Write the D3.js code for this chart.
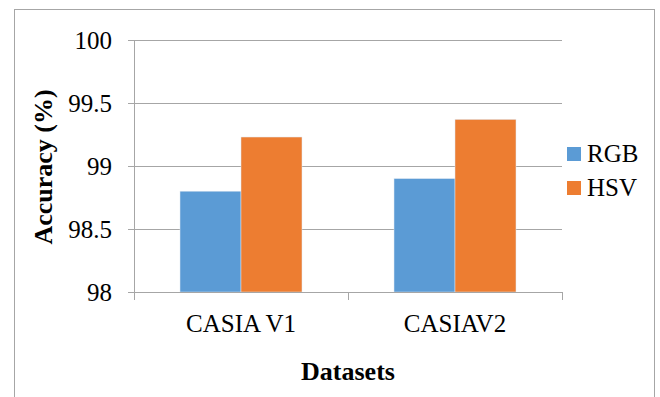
<!DOCTYPE html>
<html>
<head>
<meta charset="utf-8">
<script src="https://cdn.jsdelivr.net/npm/d3@7"></script>
<style>
  body { margin: 0; background: #fff; }
</style>
</head>
<body>
<script>
// chart data
var categories = ['CASIA V1', 'CASIAV2'];
var seriesNames = ['RGB', 'HSV'];
var rgbValues = [98.8, 98.9];
var hsvValues = [99.23, 99.37];
var yTicks = [98, 98.5, 99, 99.5, 100];
var colors = ['#5b9bd5', '#ed7d31'];

var serif = "'Times New Roman', Times, 'Liberation Serif', 'DejaVu Serif', serif";

var width = 660, height = 397;
var margin = { top: 40, right: 98, bottom: 105, left: 134 };
var plotW = width - margin.left - margin.right;
var plotH = height - margin.top - margin.bottom;

var data = categories.map(function (c, i) {
  return { cat: c, values: [rgbValues[i], hsvValues[i]] };
});

var svg = d3.select('body')
  .append('svg')
    .attr('width', width)
    .attr('height', height)
    .attr('font-family', serif);

// outer frame
svg.append('rect')
    .attr('x', 14.5).attr('y', 9.5)
    .attr('width', 640).attr('height', 400)
    .attr('fill', 'none')
    .attr('stroke', '#a6a6a6');

var g = svg.append('g')
    .attr('transform', 'translate(' + margin.left + ',' + margin.top + ')');

var x0 = d3.scaleBand()
    .domain(categories)
    .range([0, plotW])
    .paddingInner(0.43)
    .paddingOuter(0.215);

var x1 = d3.scaleBand()
    .domain(seriesNames)
    .range([0, x0.bandwidth()]);

var y = d3.scaleLinear()
    .domain([98, 100])
    .range([plotH, 0]);

// gridlines
g.selectAll('.grid')
  .data(yTicks)
  .enter().append('line')
    .attr('x1', 0).attr('x2', plotW)
    .attr('y1', function (d) { return Math.round(y(d)) + 0.5; })
    .attr('y2', function (d) { return Math.round(y(d)) + 0.5; })
    .attr('stroke', '#a6a6a6')
    .attr('stroke-width', 1);

// bars
var groups = g.selectAll('.group')
  .data(data)
  .enter().append('g')
    .attr('transform', function (d) { return 'translate(' + x0(d.cat) + ',0)'; });

groups.selectAll('rect')
  .data(function (d) { return d.values.map(function (v, i) { return { s: seriesNames[i], v: v, i: i }; }); })
  .enter().append('rect')
    .attr('x', function (d) { return x1(d.s); })
    .attr('y', function (d) { return y(d.v); })
    .attr('width', x1.bandwidth())
    .attr('height', function (d) { return plotH - y(d.v); })
    .attr('fill', function (d) { return colors[d.i]; })
    .attr('stroke', '#dfe8f2')
    .attr('stroke-width', 0.5);

// y axis
var yAxis = d3.axisLeft(y).tickValues(yTicks).tickSize(6).tickPadding(16)
    .tickFormat(d3.format('~g'));
var yg = g.append('g').call(yAxis)
    .attr('font-family', serif)
    .attr('font-size', 25);
yg.select('.domain').attr('stroke', '#a6a6a6');
yg.selectAll('.tick line').attr('stroke', '#a6a6a6');
yg.selectAll('.tick text')
    .attr('fill', '#000')
    .attr('dy', '0.32em');

// x axis with ticks at category boundaries
var xg = g.append('g').attr('transform', 'translate(0,' + plotH + ')');
xg.append('line')
    .attr('x1', 0).attr('x2', plotW)
    .attr('y1', 0.5).attr('y2', 0.5)
    .attr('stroke', '#a6a6a6');
var bounds = d3.range(categories.length + 1).map(function (i) { return i * x0.step(); });
xg.selectAll('.xtick')
  .data(bounds)
  .enter().append('line')
    .attr('x1', function (d) { return Math.round(d) + 0.5; })
    .attr('x2', function (d) { return Math.round(d) + 0.5; })
    .attr('y1', 0).attr('y2', 8)
    .attr('stroke', '#a6a6a6');
xg.selectAll('.xlabel')
  .data(categories)
  .enter().append('text')
    .attr('x', function (d) { return x0(d) + x0.bandwidth() / 2; })
    .attr('y', 40)
    .attr('text-anchor', 'middle')
    .attr('font-size', 25)
    .text(function (d) { return d; });

// axis titles
svg.append('text')
    .attr('x', margin.left + plotW / 2)
    .attr('y', 380)
    .attr('text-anchor', 'middle')
    .attr('font-size', 26)
    .attr('font-weight', 'bold')
    .text('Datasets');

svg.append('text')
    .attr('transform', 'translate(52,167) rotate(-90)')
    .attr('text-anchor', 'middle')
    .attr('font-size', 26)
    .attr('font-weight', 'bold')
    .text('Accuracy (%)');

// legend
var legend = svg.append('g')
    .attr('transform', 'translate(567,147)');
var items = legend.selectAll('g')
  .data(seriesNames)
  .enter().append('g')
    .attr('transform', function (d, i) { return 'translate(0,' + i * 34 + ')'; });
items.append('rect')
    .attr('width', 14).attr('height', 14)
    .attr('fill', function (d, i) { return colors[i]; });
items.append('text')
    .attr('x', 20).attr('y', 14.5)
    .attr('font-size', 25)
    .text(function (d) { return d; });
</script>
</body>
</html>
